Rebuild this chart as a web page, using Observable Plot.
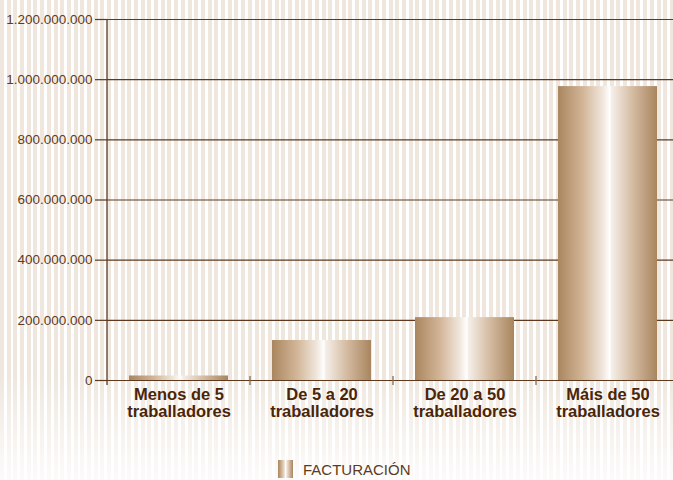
<!DOCTYPE html>
<html>
<head>
<meta charset="utf-8">
<script src="https://cdn.jsdelivr.net/npm/d3@7"></script>
<script src="https://cdn.jsdelivr.net/npm/@observablehq/plot@0.6"></script>
<style>
  html, body { margin: 0; padding: 0; background: #fff; }
  #chart {
    position: relative; width: 673px; height: 480px; overflow: hidden;
    font-family: "Liberation Sans", Arial, Helvetica, sans-serif;
    background:
      linear-gradient(to bottom, rgba(255,255,255,0) 0%, rgba(255,255,255,0) 78%, rgba(255,255,255,0.85) 100%),
      repeating-linear-gradient(to right, #efe7de 0px, #efe7de 4px, #ffffff 4px, #ffffff 6.7px);
  }
  #chart svg { position: absolute; left: 0; top: 0; overflow: visible; }
  #legend {
    position: absolute; left: 278px; top: 460px; display: flex; align-items: center;
    font-size: 15px; color: #5e3b1c; letter-spacing: 0;
  }
  #legend .sw {
    width: 15px; height: 18px; margin-right: 10px;
    background: linear-gradient(to right, #a9865f 0%, #d2b597 25%, #f0e6dc 45%, #ffffff 50%, #f3ece5 56%, #d5bca3 75%, #a8855e 100%);
  }
</style>
</head>
<body>
<div id="chart"><div id="legend"><div class="sw"></div><span>FACTURACIÓN</span></div></div>
<script>
const categories = ["Menos de 5\ntraballadores", "De 5 a 20\ntraballadores", "De 20 a 50\ntraballadores", "Máis de 50\ntraballadores"];
const facturacion = [15000000, 133000000, 209000000, 977000000];
const yTicks = [0, 200000000, 400000000, 600000000, 800000000, 1000000000, 1200000000];
const seriesName = "FACTURACIÓN";

const data = categories.map((c, i) => ({cat: c, value: facturacion[i]}));
const locale = d3.formatLocale({decimal: ",", thousands: ".", grouping: [3], currency: ["", "€"]});
const fmt = locale.format(",");
const brown = "#5b3a1f";

const plot = Plot.plot({
  width: 673,
  height: 440,
  marginLeft: 107,
  marginRight: -6,
  marginTop: 19,
  marginBottom: 60,
  style: {background: "transparent", fontFamily: "Liberation Sans, Arial, Helvetica, sans-serif", overflow: "visible"},
  x: {domain: categories, paddingInner: 0.31, paddingOuter: 0.155, label: null},
  y: {domain: [0, 1200000000], label: null},
  marks: [
    Plot.ruleY(yTicks, {stroke: brown, strokeWidth: 1.2, strokeOpacity: 1}),
    Plot.axisY({ticks: yTicks, tickSize: 12, tickPadding: 3, tickFormat: fmt, stroke: brown, strokeWidth: 1.2, strokeOpacity: 1, fill: "#5e3b1c", fontSize: 13.5, label: null}),
    Plot.barY(data, {x: "cat", y: "value", fill: "url(#barGrad)"}),
    Plot.axisX({tickSize: 0, tickPadding: 8, fontSize: 16.5, fontWeight: "bold", fill: "#4a2509", label: null})
  ]
});

const svg = d3.select(plot);
const defs = svg.insert("defs", ":first-child");
const g = defs.append("linearGradient").attr("id", "barGrad").attr("x1", "0").attr("x2", "1").attr("y1", "0").attr("y2", "0");
[[0, "#a9865f"], [0.25, "#d2b597"], [0.45, "#f0e6dc"], [0.525, "#ffffff"], [0.54, "#f5efe9"], [0.75, "#d5bca3"], [1, "#a8855e"]]
  .forEach(([o, c]) => g.append("stop").attr("offset", o).attr("stop-color", c));
svg.selectAll('[aria-label="x-axis tick label"] text').style("font-weight", "bold");

// axis line and category boundary ticks from the plot's own scales
const xs = plot.scale("x"), ys = plot.scale("y");
const [r0, r1] = xs.range;
const step = (r1 - r0) / categories.length;
const yTop = ys.apply(1200000000), y0 = ys.apply(0);
const axes = svg.append("g");
axes.append("line").attr("x1", r0).attr("x2", r0).attr("y1", yTop).attr("y2", y0 + 5)
  .attr("stroke", brown).attr("stroke-width", 1.3);
for (let i = 1; i < categories.length; i++) {
  axes.append("line").attr("x1", r0 + i * step).attr("x2", r0 + i * step).attr("y1", y0 - 4).attr("y2", y0 + 5)
    .attr("stroke", "#8a6a4c").attr("stroke-width", 1.3);
}
document.getElementById("chart").prepend(plot);
</script>
</body>
</html>
